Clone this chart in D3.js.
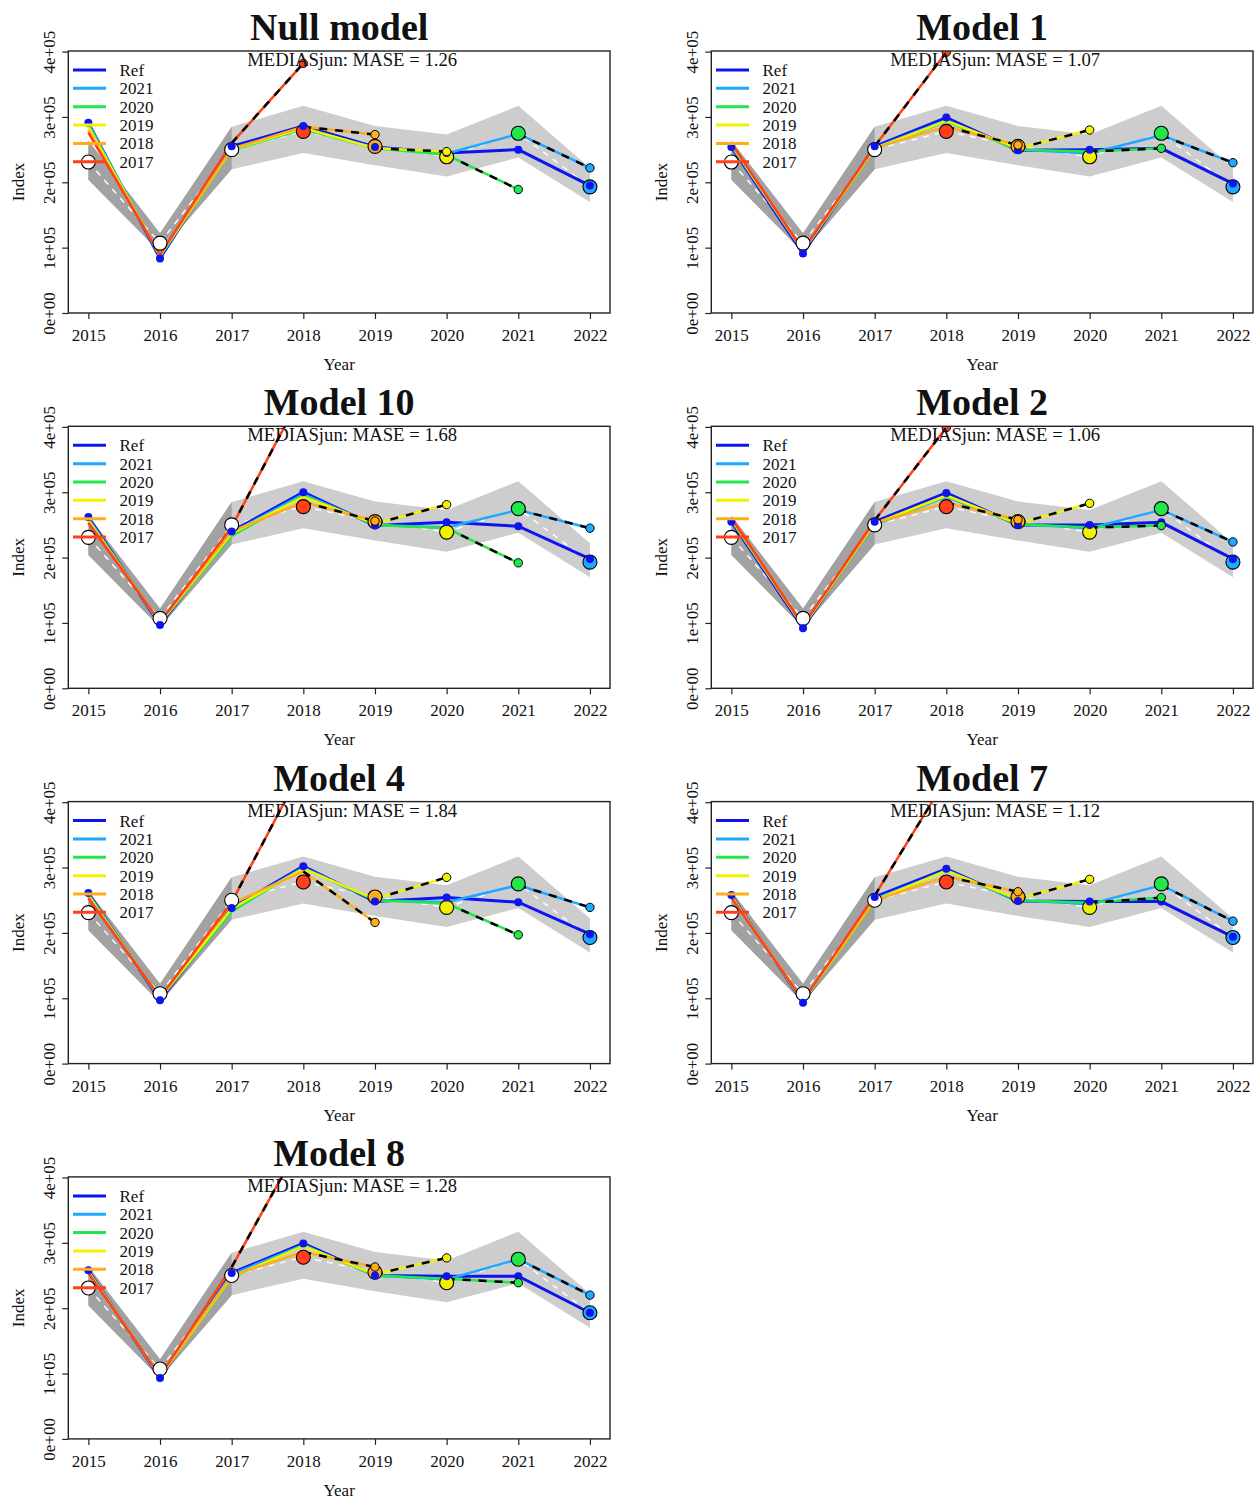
<!DOCTYPE html>
<html>
<head>
<meta charset="utf-8">
<script src="https://cdn.jsdelivr.net/npm/d3@7"></script>
<style>
  body { margin: 0; background: #fff; }
  svg { display: block; }
  text { font-family: "Liberation Serif", "Times New Roman", serif; fill: #111; }
</style>
</head>
<body>
<svg id="chart" width="1259" height="1502"></svg>
<script>
// ---- shared axes / observations -------------------------------------------
const years = [2015, 2016, 2017, 2018, 2019, 2020, 2021, 2022];
const yTicks = [0, 1e5, 2e5, 3e5, 4e5];
const yTickLabels = ["0e+00", "1e+05", "2e+05", "3e+05", "4e+05"];

// MEDIASjun observed index with its confidence band
const obsIndex = [2.31e5, 1.07e5, 2.50e5, 2.78e5, 2.55e5, 2.39e5, 2.75e5, 1.93e5];
const obsLower = [2.04e5, 0.93e5, 2.20e5, 2.45e5, 2.26e5, 2.09e5, 2.38e5, 1.70e5];
const obsUpper = [2.64e5, 1.22e5, 2.85e5, 3.17e5, 2.86e5, 2.73e5, 3.17e5, 2.22e5];

// hindcast peels (terminal year of each peel)
const peelYears = [2021, 2020, 2019, 2018, 2017];
const seriesLabels = ["Ref", "2021", "2020", "2019", "2018", "2017"];
const seriesColors = ["#0d14ee", "#1ea8ff", "#22e64a", "#f2f200", "#ffad1a", "#ff4018"];

const modelNames = ["Null model", "Model 1", "Model 10", "Model 2", "Model 4", "Model 7", "Model 8"];
const maseValues = [1.26, 1.07, 1.68, 1.06, 1.84, 1.12, 1.28];

// ---- reference fits (2015-2022) -------------------------------------------
const refNull = [2.91e5, 0.835e5, 2.55e5, 2.86e5, 2.54e5, 2.45e5, 2.50e5, 1.95e5];
const refM1   = [2.54e5, 0.91e5, 2.55e5, 2.99e5, 2.49e5, 2.50e5, 2.52e5, 1.98e5];
const refM10  = [2.62e5, 0.97e5, 2.40e5, 3.00e5, 2.49e5, 2.54e5, 2.48e5, 1.98e5];
const refM2   = [2.55e5, 0.92e5, 2.55e5, 2.99e5, 2.50e5, 2.50e5, 2.54e5, 1.98e5];
const refM4   = [2.61e5, 0.97e5, 2.38e5, 3.02e5, 2.48e5, 2.54e5, 2.47e5, 1.98e5];
const refM7   = [2.58e5, 0.93e5, 2.55e5, 2.98e5, 2.49e5, 2.48e5, 2.48e5, 1.94e5];
const refM8   = [2.58e5, 0.93e5, 2.54e5, 2.99e5, 2.50e5, 2.49e5, 2.49e5, 1.93e5];

// ---- peel fits: 2015..peel year, last value = one-step-ahead forecast ------
const peelsNull = [
  [2.90e5, 0.86e5, 2.52e5, 2.82e5, 2.53e5, 2.44e5, 2.74e5, 2.22e5],
  [2.88e5, 0.87e5, 2.49e5, 2.81e5, 2.52e5, 2.42e5, 1.89e5],
  [2.85e5, 0.88e5, 2.50e5, 2.83e5, 2.52e5, 2.47e5],
  [2.80e5, 0.885e5, 2.51e5, 2.85e5, 2.73e5],
  [2.76e5, 0.89e5, 2.60e5, 3.82e5]
];
const peelsM1 = [
  [2.56e5, 0.94e5, 2.53e5, 2.95e5, 2.50e5, 2.44e5, 2.72e5, 2.30e5],
  [2.57e5, 0.95e5, 2.51e5, 2.93e5, 2.50e5, 2.47e5, 2.52e5],
  [2.58e5, 0.95e5, 2.52e5, 2.94e5, 2.52e5, 2.80e5],
  [2.59e5, 0.96e5, 2.53e5, 2.85e5, 2.57e5],
  [2.60e5, 0.96e5, 2.55e5, 3.99e5]
];
const peelsM10 = [
  [2.60e5, 0.99e5, 2.38e5, 2.97e5, 2.50e5, 2.46e5, 2.73e5, 2.45e5],
  [2.58e5, 1.00e5, 2.33e5, 2.95e5, 2.50e5, 2.45e5, 1.92e5],
  [2.57e5, 1.00e5, 2.37e5, 2.93e5, 2.52e5, 2.81e5],
  [2.55e5, 1.01e5, 2.40e5, 2.85e5, 2.56e5],
  [2.53e5, 1.01e5, 2.47e5, 4.55e5]
];
const peelsM2 = [
  [2.57e5, 0.95e5, 2.50e5, 2.93e5, 2.51e5, 2.45e5, 2.73e5, 2.24e5],
  [2.58e5, 0.95e5, 2.51e5, 2.94e5, 2.51e5, 2.46e5, 2.49e5],
  [2.59e5, 0.95e5, 2.52e5, 2.95e5, 2.52e5, 2.83e5],
  [2.60e5, 0.96e5, 2.53e5, 2.84e5, 2.58e5],
  [2.61e5, 0.96e5, 2.57e5, 3.99e5]
];
const peelsM4 = [
  [2.60e5, 0.99e5, 2.37e5, 3.00e5, 2.50e5, 2.47e5, 2.73e5, 2.39e5],
  [2.58e5, 1.00e5, 2.33e5, 2.99e5, 2.50e5, 2.45e5, 1.97e5],
  [2.57e5, 1.00e5, 2.37e5, 2.98e5, 2.52e5, 2.85e5],
  [2.55e5, 1.01e5, 2.45e5, 2.94e5, 2.16e5],
  [2.53e5, 1.01e5, 2.47e5, 4.55e5]
];
const peelsM7 = [
  [2.57e5, 0.95e5, 2.52e5, 2.95e5, 2.50e5, 2.44e5, 2.73e5, 2.18e5],
  [2.56e5, 0.95e5, 2.48e5, 2.96e5, 2.50e5, 2.46e5, 2.54e5],
  [2.56e5, 0.95e5, 2.50e5, 2.95e5, 2.52e5, 2.82e5],
  [2.55e5, 0.96e5, 2.50e5, 2.86e5, 2.63e5],
  [2.54e5, 0.96e5, 2.57e5, 4.36e5]
];
const peelsM8 = [
  [2.57e5, 0.95e5, 2.52e5, 2.97e5, 2.50e5, 2.44e5, 2.75e5, 2.20e5],
  [2.56e5, 0.95e5, 2.47e5, 2.96e5, 2.50e5, 2.45e5, 2.39e5],
  [2.56e5, 0.95e5, 2.48e5, 2.95e5, 2.52e5, 2.77e5],
  [2.55e5, 0.96e5, 2.50e5, 2.86e5, 2.63e5],
  [2.54e5, 0.96e5, 2.63e5, 4.60e5]
];

const refFits = [refNull, refM1, refM10, refM2, refM4, refM7, refM8];
const peelFits = [peelsNull, peelsM1, peelsM10, peelsM2, peelsM4, peelsM7, peelsM8];

// ---- layout ---------------------------------------------------------------
const svg = d3.select("#chart");
const colStep = 643, rowStep = 375.3;
const box = { left: 68.3, right: 610, top: 51, bottom: 313 };
const bandLight = "#cdcdcd", bandDark = "#a2a2a2";

// observation fill: white before the first forecast year, then the peel colour
const obsFill = years.map(yr => {
  const k = peelYears.indexOf(yr - 1);
  return k >= 0 ? seriesColors[k + 1] : "#ffffff";
});

modelNames.forEach((name, i) => {
  const col = i % 2, row = Math.floor(i / 2);
  const g = svg.append("g").attr("transform", `translate(${col * colStep},${row * rowStep})`);

  const x = d3.scaleLinear().domain([2015 - 0.28, 2022 + 0.28]).range([box.left, box.right]);
  const y = d3.scaleLinear().domain([0, 4e5]).range([box.bottom, box.top + 0.6]);

  const clipId = "plotclip" + i;
  g.append("clipPath").attr("id", clipId).append("rect")
    .attr("x", box.left).attr("y", box.top)
    .attr("width", box.right - box.left).attr("height", box.bottom - box.top);
  const plot = g.append("g").attr("clip-path", `url(#${clipId})`);

  const obsRows = years.map((yr, j) => ({ yr, v: obsIndex[j], lo: obsLower[j], hi: obsUpper[j] }));
  const band = d3.area().x(d => x(d.yr)).y0(d => y(d.lo)).y1(d => y(d.hi));

  // confidence band: whole series, and darker over the pre-forecast years
  plot.append("path").attr("d", band(obsRows)).attr("fill", bandLight);
  plot.append("path").attr("d", band(obsRows.slice(0, 3))).attr("fill", bandDark);

  const line = d3.line().x(d => x(d[0])).y(d => y(d[1]));

  // observed index
  plot.append("path").attr("d", line(obsRows.map(d => [d.yr, d.v])))
    .attr("fill", "none").attr("stroke", "#ffffff").attr("stroke-width", 1.4)
    .attr("stroke-dasharray", "6,6");

  // reference fit
  const ref = refFits[i];
  plot.append("path").attr("d", line(ref.map((v, j) => [years[j], v])))
    .attr("fill", "none").attr("stroke", seriesColors[0]).attr("stroke-width", 3);

  // peel fits
  const peels = peelFits[i];
  peels.forEach((vals, k) => {
    const fit = vals.slice(0, vals.length - 1).map((v, j) => [years[j], v]);
    plot.append("path").attr("d", line(fit))
      .attr("fill", "none").attr("stroke", seriesColors[k + 1]).attr("stroke-width", 2.5)
      .attr("stroke-linejoin", "round");
  });
  // one-step-ahead forecasts
  peels.forEach((vals, k) => {
    const n = vals.length;
    const seg = [[years[n - 2], vals[n - 2]], [years[n - 1], vals[n - 1]]];
    plot.append("path").attr("d", line(seg))
      .attr("fill", "none").attr("stroke", seriesColors[k + 1]).attr("stroke-width", 2.5);
    plot.append("path").attr("d", line(seg))
      .attr("fill", "none").attr("stroke", "#000").attr("stroke-width", 2.5)
      .attr("stroke-dasharray", "8,8");
  });

  // observations
  plot.selectAll(".obs").data(obsRows).enter().append("circle")
    .attr("cx", d => x(d.yr)).attr("cy", d => y(d.v)).attr("r", 7)
    .attr("fill", (d, j) => obsFill[j]).attr("stroke", "#000").attr("stroke-width", 1.1);

  // reference points
  plot.selectAll(".refpt").data(ref).enter().append("circle")
    .attr("cx", (d, j) => x(years[j])).attr("cy", d => y(d)).attr("r", 4)
    .attr("fill", seriesColors[0]);

  // forecast points
  peels.forEach((vals, k) => {
    const n = vals.length;
    plot.append("circle").attr("cx", x(years[n - 1])).attr("cy", y(vals[n - 1])).attr("r", 4.2)
      .attr("fill", seriesColors[k + 1]).attr("stroke", "#000").attr("stroke-width", 1);
  });

  // frame
  g.append("rect").attr("x", box.left).attr("y", box.top)
    .attr("width", box.right - box.left).attr("height", box.bottom - box.top)
    .attr("fill", "none").attr("stroke", "#222").attr("stroke-width", 1.4);

  // x axis
  const xAxis = g.append("g").attr("transform", `translate(0,${box.bottom})`)
    .call(d3.axisBottom(x).tickValues(years).tickFormat(d3.format("d")).tickSize(6).tickPadding(10));
  xAxis.select(".domain").remove();
  xAxis.selectAll("line").attr("stroke", "#222").attr("stroke-width", 1.2);
  xAxis.selectAll("text").attr("font-size", 17).attr("fill", "#111")
    .style("font-family", "'Liberation Serif', serif");

  // y axis with rotated labels
  const yAxis = g.append("g").attr("transform", `translate(${box.left},0)`)
    .call(d3.axisLeft(y).tickValues(yTicks).tickFormat((d, j) => yTickLabels[j]).tickSize(6));
  yAxis.select(".domain").remove();
  yAxis.selectAll("line").attr("stroke", "#222").attr("stroke-width", 1.2);
  yAxis.selectAll("text").attr("x", null).attr("dy", null)
    .attr("text-anchor", "middle").attr("transform", "translate(-13,0) rotate(-90)")
    .attr("font-size", 17).attr("fill", "#111")
    .style("font-family", "'Liberation Serif', serif");

  // axis titles
  g.append("text").attr("transform", `translate(24,${(box.top + box.bottom) / 2}) rotate(-90)`)
    .attr("text-anchor", "middle").attr("font-size", 17).text("Index");
  g.append("text").attr("x", (box.left + box.right) / 2).attr("y", 370)
    .attr("text-anchor", "middle").attr("font-size", 17).text("Year");

  // panel title and skill score
  g.append("text").attr("x", (box.left + box.right) / 2).attr("y", 40)
    .attr("text-anchor", "middle").attr("font-size", 38).attr("font-weight", "bold")
    .text(name);
  g.append("text").attr("x", (box.left + box.right) / 2 + 13).attr("y", 66)
    .attr("text-anchor", "middle").attr("font-size", 18.7).attr("fill", "#222")
    .text(`MEDIASjun: MASE = ${maseValues[i].toFixed(2)}`);

  // legend
  const leg = g.append("g");
  seriesLabels.forEach((lab, k) => {
    const ly = 70 + k * 18.35;
    leg.append("line").attr("x1", 73).attr("x2", 106).attr("y1", ly).attr("y2", ly)
      .attr("stroke", seriesColors[k]).attr("stroke-width", 3);
    leg.append("text").attr("x", 119.5).attr("y", ly + 6).attr("font-size", 17).text(lab);
  });
});
</script>
</body>
</html>
